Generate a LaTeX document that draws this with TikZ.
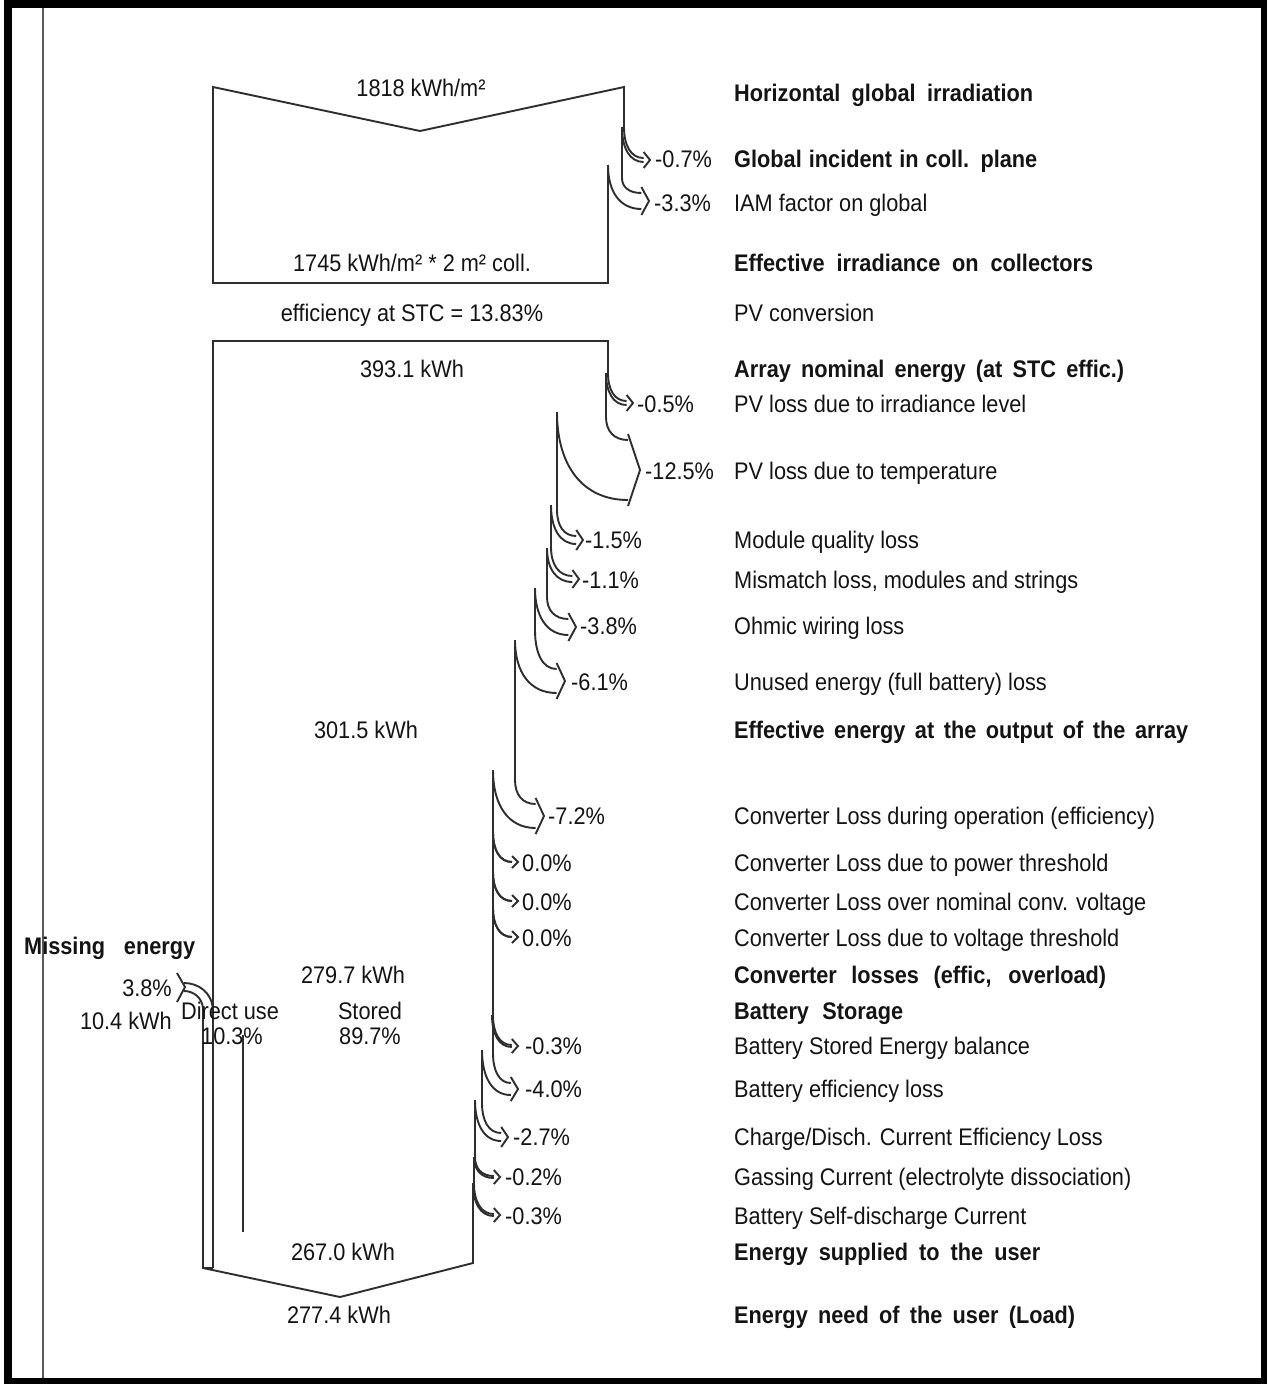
\documentclass[tikz,border=0pt]{standalone}
\usepackage{fontspec}
\setmainfont{Liberation Sans}[FakeStretch=0.905]
\newcommand{\zzjw}[2]{\hbox to #1pt{#2}}
\newcommand{\zzloss}[7]{%
  \pgfmathsetmacro{\zza}{6+0.2*#7}%
  \pgfmathsetmacro{\zzxe}{#5-\zza}%
  \pgfmathsetmacro{\zzxi}{#1-#2}%
  \pgfmathsetmacro{\zzyo}{#6-#7}%
  \pgfmathsetmacro{\zzyi}{#6+#7}%
  \pgfmathsetmacro{\zzcoy}{#3+0.6*(\zzyo-#3)}%
  \pgfmathsetmacro{\zzcox}{#1+0.35*(\zzxe-#1)}%
  \pgfmathsetmacro{\zzciy}{#4+0.6*(\zzyi-#4)}%
  \pgfmathsetmacro{\zzcix}{\zzxi+0.35*(\zzxe-\zzxi)}%
  \pgfmathsetmacro{\zzbt}{\zzyo-6}%
  \pgfmathsetmacro{\zzbb}{\zzyi+6}%
  \draw[flow] (#1,#3) .. controls (#1,\zzcoy) and (\zzcox,\zzyo) .. (\zzxe,\zzyo);
  \draw[flow] (\zzxi,#4) .. controls (\zzxi,\zzciy) and (\zzcix,\zzyi) .. (\zzxe,\zzyi);
  \draw[flow] (\zzxe,\zzbt) -- (#5,#6) -- (\zzxe,\zzbb);
}
\tikzset{
  flow/.style={draw=black!82, line width=1.9pt, line join=miter},
  lbl/.style={inner sep=0pt, anchor=west, text height=17pt, text depth=0pt, text=black!92, font=\fontsize{24}{28}\selectfont},
  lblb/.style={lbl, font=\fontsize{24}{28}\selectfont\bfseries},
  ctr/.style={lbl, anchor=center},
  rgt/.style={lbl, anchor=east},
}
\begin{document}
\begin{tikzpicture}[x=1pt,y=-1pt]
\useasboundingbox (0,0) rectangle (1267,1384);
% frame
\fill[black] (4,0) rectangle (1267,1384);
\fill[white] (12,8) rectangle (1261,1378);
\draw[line width=2pt, black!65] (43,8) -- (43,1378);

% top box (irradiation)
\draw[flow] (624,127) -- (624,87) -- (420,131) -- (213,87) -- (213,283) -- (608,283) -- (608,165);
\draw[flow] (622,127) -- (622,178);
\zzloss{624}{2}{127}{127}{650}{160}{2}
\zzloss{622}{14}{178}{165}{649}{201}{8}

% array box
\draw[flow] (608,373) -- (608,341) -- (213,341) -- (213,1268);
\draw[flow] (606,373) -- (606,417);
\zzloss{608}{2}{373}{373}{633}{403}{2}
\zzloss{606}{49}{417}{412}{640}{470}{30}
\draw[flow] (557,412) -- (557,510);
\zzloss{557}{6}{510}{505}{583}{540}{4}
\draw[flow] (551,505) -- (551,547);
\zzloss{551}{4}{547}{548}{579}{579}{3}
\draw[flow] (547,548) -- (547,597);
\zzloss{547}{12}{597}{588}{576}{627}{8}
\draw[flow] (535,588) -- (535,630);
\zzloss{535}{20}{630}{640}{565}{681}{12}
\draw[flow] (515,640) -- (515,780);
\zzloss{515}{22}{780}{770}{544}{816}{12}
\draw[flow] (493,770) -- (493,1053);
\zzloss{493}{0}{832}{832}{518}{862}{0}
\zzloss{493}{0}{872}{872}{518}{901}{0}
\zzloss{493}{0}{908}{908}{518}{937}{0}
\zzloss{493}{1}{1015}{1015}{518}{1046}{1}
\zzloss{493}{11}{1053}{1050}{518}{1089}{6}
\draw[flow] (482,1050) -- (482,1103);
\zzloss{482}{7}{1103}{1100}{508}{1137}{4}
\draw[flow] (475,1100) -- (475,1157);
\zzloss{475}{1}{1157}{1157}{500}{1177}{1}
\draw[flow] (474,1157) -- (474,1183);
\zzloss{474}{1}{1183}{1183}{500}{1215}{1}
\draw[flow] (473,1183) -- (473,1263) -- (340,1297) -- (203,1268) -- (203,1008);
\draw[flow] (203,1268) -- (213,1268);
% direct use split
\draw[flow] (243,1035) -- (243,1232);
% missing energy arrow
\draw[flow] (213,1010) .. controls (212,992) and (198,983) .. (184,983);
\draw[flow] (203,1008) .. controls (202,998) and (194,991) .. (184,991);
\draw[flow] (177,973) -- (185,987) -- (177,1002);

% right labels
\node[lblb] (r1) at (734,93) {\zzjw{299}{Horizontal global irradiation}};
\node[lblb] (r2) at (734,159) {\zzjw{303}{Global incident in coll. plane}};
\node[lbl] (r3) at (734,203) {IAM factor on global};
\node[lblb] (r4) at (734,263) {\zzjw{359}{Effective irradiance on collectors}};
\node[lbl] (r5) at (734,313) {PV conversion};
\node[lblb] (r6) at (734,369) {\zzjw{390}{Array nominal energy (at STC effic.)}};
\node[lbl] (r7) at (734,404) {PV loss due to irradiance level};
\node[lbl] (r8) at (734,471) {PV loss due to temperature};
\node[lbl] (r9) at (734,540) {Module quality loss};
\node[lbl] (r10) at (734,580) {Mismatch loss, modules and strings};
\node[lbl] (r11) at (734,626) {Ohmic wiring loss};
\node[lbl] (r12) at (734,682) {Unused energy (full battery) loss};
\node[lblb] (r13) at (734,730) {\zzjw{454}{Effective energy at the output of the array}};
\node[lbl] (r14) at (734,816) {Converter Loss during operation (efficiency)};
\node[lbl] (r15) at (734,863) {Converter Loss due to power threshold};
\node[lbl] (r16) at (734,902) {Converter Loss over nominal conv. voltage};
\node[lbl] (r17) at (734,938) {Converter Loss due to voltage threshold};
\node[lblb] (r18) at (734,975) {\zzjw{372}{Converter losses (effic, overload)}};
\node[lblb] (r19) at (734,1011) {\zzjw{169}{Battery Storage}};
\node[lbl] (r20) at (734,1046) {Battery Stored Energy balance};
\node[lbl] (r21) at (734,1089) {Battery efficiency loss};
\node[lbl] (r22) at (734,1137) {Charge/Disch. Current Efficiency Loss};
\node[lbl] (r23) at (734,1177) {Gassing Current (electrolyte dissociation)};
\node[lbl] (r24) at (734,1216) {Battery Self-discharge Current};
\node[lblb] (r25) at (734,1252) {\zzjw{306}{Energy supplied to the user}};
\node[lblb] (r26) at (734,1315) {\zzjw{341}{Energy need of the user (Load)}};

% percentages
\node[lbl] (p1) at (655,159) {-0.7\%};
\node[lbl] (p2) at (654,203) {-3.3\%};
\node[lbl] (p3) at (637,404) {-0.5\%};
\node[lbl] (p4) at (645,471) {-12.5\%};
\node[lbl] (p5) at (585,540) {-1.5\%};
\node[lbl] (p6) at (582,580) {-1.1\%};
\node[lbl] (p7) at (580,626) {-3.8\%};
\node[lbl] (p8) at (571,682) {-6.1\%};
\node[lbl] (p9) at (548,816) {-7.2\%};
\node[lbl] (p10) at (522,863) {0.0\%};
\node[lbl] (p11) at (522,902) {0.0\%};
\node[lbl] (p12) at (522,938) {0.0\%};
\node[lbl] (p13) at (525,1046) {-0.3\%};
\node[lbl] (p14) at (525,1089) {-4.0\%};
\node[lbl] (p15) at (513,1137) {-2.7\%};
\node[lbl] (p16) at (505,1177) {-0.2\%};
\node[lbl] (p17) at (505,1216) {-0.3\%};

% centre labels
\node[ctr] (c1) at (421,88) {1818 kWh/m²};
\node[ctr] (c2) at (412,263) {1745 kWh/m² * 2 m² coll.};
\node[ctr] (c3) at (412,313) {efficiency at STC = 13.83\%};
\node[ctr] (c4) at (412,369) {393.1 kWh};
\node[ctr] (c5) at (366,730) {301.5 kWh};
\node[ctr] (c6) at (353,975) {279.7 kWh};
\node[lblb] (c7) at (24,946) {\zzjw{171}{Missing energy}};
\node[rgt] (c8) at (172,988) {3.8\%};
\node[rgt] (c9) at (172,1021) {10.4 kWh};
\node[ctr] (c10) at (230,1011) {Direct use};
\node[ctr] (c11) at (232,1036) {10.3\%};
\node[ctr] (c12) at (370,1011) {Stored};
\node[ctr] (c13) at (370,1036) {89.7\%};
\node[ctr] (c14) at (343,1252) {267.0 kWh};
\node[ctr] (c15) at (339,1315) {277.4 kWh};
\end{tikzpicture}
\end{document}
